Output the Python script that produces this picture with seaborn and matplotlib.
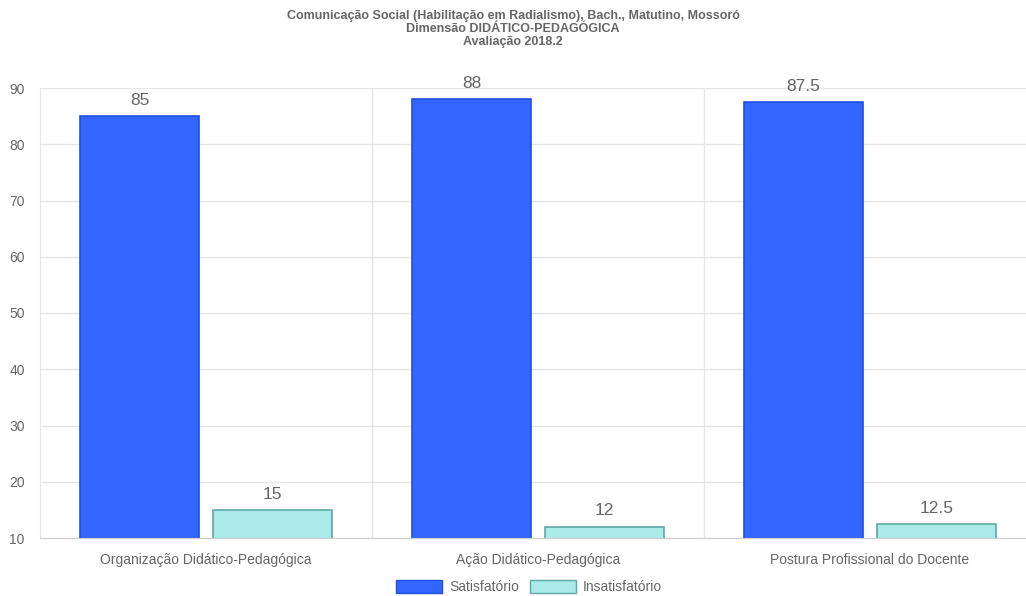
import matplotlib
matplotlib.use('Agg')
import matplotlib.pyplot as plt
import seaborn as sns
import pandas as pd
from matplotlib.patches import Patch

categories = ['Organização Didático-Pedagógica', 'Ação Didático-Pedagógica', 'Postura Profissional do Docente']
satisfatorio = [85, 88, 87.5]
insatisfatorio = [15, 12, 12.5]
series = ['Satisfatório', 'Insatisfatório']
y_ticks = [10, 20, 30, 40, 50, 60, 70, 80, 90]

title = ('Comunicação Social (Habilitação em Radialismo), Bach., Matutino, Mossoró\n'
         'Dimensão DIDÁTICO-PEDAGÓGICA\n'
         'Avaliação 2018.2')

fill_colors = ['#3366ff', '#aaeae8']
edge_colors = ['#2050e0', '#5fa8a6']
text_color = '#666666'
grid_color = '#e6e6e6'

df = pd.DataFrame({
    'categoria': categories * 2,
    'valor': satisfatorio + insatisfatorio,
    'serie': [series[0]] * 3 + [series[1]] * 3,
})

sns.set_style('white')
plt.rcParams['font.family'] = ['Liberation Sans', 'DejaVu Sans']

fig = plt.figure(figsize=(10.26, 5.96), dpi=100)
W, H = 1026, 596
ax = fig.add_axes([40 / W, 1 - 538 / H, (1036 - 40) / W, (538 - 88) / H])

sns.barplot(data=df, x='categoria', y='valor', hue='serie', order=categories,
            hue_order=series, palette=fill_colors, saturation=1, width=0.8, gap=0.1,
            linewidth=1.2, legend=False, ax=ax)

for cont, ec in zip(ax.containers, edge_colors):
    for bar in cont:
        bar.set_edgecolor(ec)
    ax.bar_label(cont, labels=[f'{v:g}' for v in cont.datavalues], padding=6,
                 fontsize=12.5, color=text_color)

ax.set_ylim(10, 90)
ax.set_xlim(-0.5, 2.5)
ax.set_yticks(y_ticks)
ax.set_xticks(range(len(categories)))
ax.set_xticklabels(categories)
ax.set_xticks([0.5, 1.5, 2.5], minor=True)
ax.tick_params(axis='x', which='major', length=0, pad=11, labelsize=10, labelcolor=text_color)
ax.tick_params(axis='x', which='minor', length=10, color=grid_color, width=1)
ax.tick_params(axis='y', length=5, color=grid_color, pad=6, labelsize=10, labelcolor=text_color)
ax.set_xlabel('')
ax.set_ylabel('')

ax.grid(axis='y', color=grid_color, linewidth=1)
ax.grid(axis='x', which='minor', color=grid_color, linewidth=1)
ax.set_axisbelow(True)
for s in ['top', 'right']:
    ax.spines[s].set_visible(False)
ax.spines['left'].set_color(grid_color)
ax.spines['bottom'].set_color('#cccccc')

fig.text(0.5, 1 - 10 / H, title, ha='center', va='top', fontsize=9,
         fontweight='bold', color=text_color, linespacing=1.12)

handles = [Patch(facecolor=f, edgecolor=e, linewidth=1) for f, e in zip(fill_colors, edge_colors)]
fig.legend(handles, series, loc='center', bbox_to_anchor=(529 / W, 1 - 587 / H), ncol=2,
           frameon=False, fontsize=10, labelcolor=text_color, handlelength=3.3,
           handleheight=1.1, handletextpad=0.5, columnspacing=0.8)

fig.savefig('out.png', dpi=100)
